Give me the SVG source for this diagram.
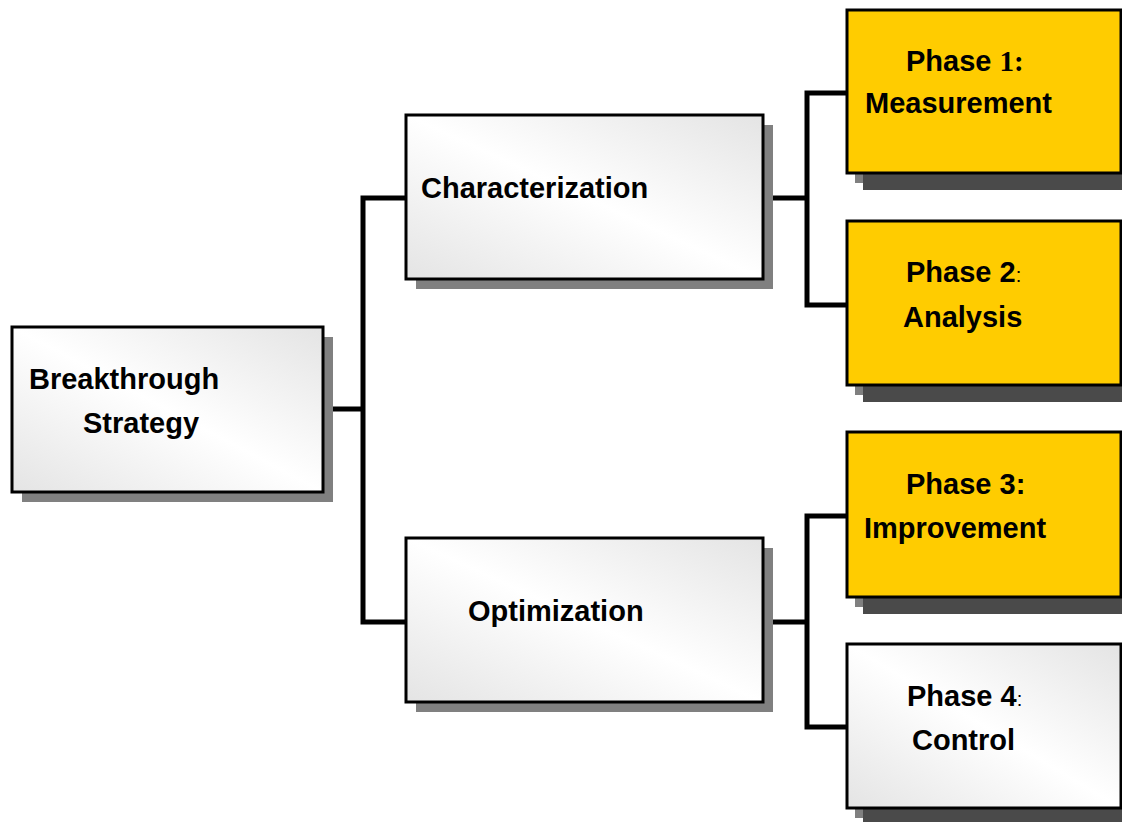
<svg xmlns="http://www.w3.org/2000/svg" width="1122" height="822" viewBox="0 0 1122 822">
<defs>
<linearGradient id="g" x1="0" y1="1" x2="1" y2="0">
<stop offset="0" stop-color="#e4e4e4"/>
<stop offset="0.5" stop-color="#ffffff"/>
<stop offset="1" stop-color="#e4e4e4"/>
</linearGradient>
<style>
.box{stroke:#000;stroke-width:3}
.w{fill:url(#g)}
.y{fill:#ffcc00}
.sh{fill:#808080}
.sh2{fill:#4a4a4a}
.t{font-family:"Liberation Sans",Arial,sans-serif;font-weight:bold;font-size:29px;fill:#000}
.c{fill:none;stroke:#000;stroke-width:5;stroke-linejoin:miter}
</style>
</defs>
<rect width="1122" height="822" fill="#fff"/>
<g id="connectors">
<path class="c" d="M333 409H363M405 198H363V622H405"/>
<path class="c" d="M773 198H807M847 93H807V305H847"/>
<path class="c" d="M773 622H807M847 516H807V727H847"/>
</g>
<g id="breakthrough">
<rect class="sh" x="22" y="337" width="311" height="165"/>
<rect class="box w" x="12" y="327" width="311" height="165"/>
<text class="t" x="29" y="389">Breakthrough</text>
<text class="t" x="83" y="433">Strategy</text>
</g>
<g id="characterization">
<rect class="sh" x="416" y="125" width="357" height="164"/>
<rect class="box w" x="406" y="115" width="357" height="164"/>
<text class="t" x="421" y="198">Characterization</text>
</g>
<g id="optimization">
<rect class="sh" x="416" y="548" width="357" height="164"/>
<rect class="box w" x="406" y="538" width="357" height="164"/>
<text class="t" x="468" y="621">Optimization</text>
</g>
<g id="phase1">
<rect class="sh" x="855" y="20" width="274" height="163"/>
<rect class="sh2" x="863" y="27" width="274" height="163"/>
<rect class="box y" x="847" y="10" width="274" height="163"/>
<text class="t" x="906" y="71">Phase <tspan font-family="'Liberation Serif','Times New Roman',serif">1:</tspan></text>
<text class="t" x="865" y="113">Measurement</text>
</g>
<g id="phase2">
<rect class="sh" x="855" y="231" width="274" height="164"/>
<rect class="sh2" x="863" y="238" width="274" height="164"/>
<rect class="box y" x="847" y="221" width="274" height="164"/>
<text class="t" x="906" y="282">Phase 2<tspan font-weight="normal" font-size="20">:</tspan></text>
<text class="t" x="903" y="327">Analysis</text>
</g>
<g id="phase3">
<rect class="sh" x="855" y="442" width="274" height="165"/>
<rect class="sh2" x="863" y="449" width="274" height="165"/>
<rect class="box y" x="847" y="432" width="274" height="165"/>
<text class="t" x="906" y="494">Phase 3:</text>
<text class="t" x="864" y="538">Improvement</text>
</g>
<g id="phase4">
<rect class="sh" x="855" y="654" width="274" height="164"/>
<rect class="sh2" x="863" y="661" width="274" height="164"/>
<rect class="box w" x="847" y="644" width="274" height="164"/>
<text class="t" x="907" y="706">Phase 4<tspan font-weight="normal" font-size="20">:</tspan></text>
<text class="t" x="912" y="750">Control</text>
</g>
</svg>
